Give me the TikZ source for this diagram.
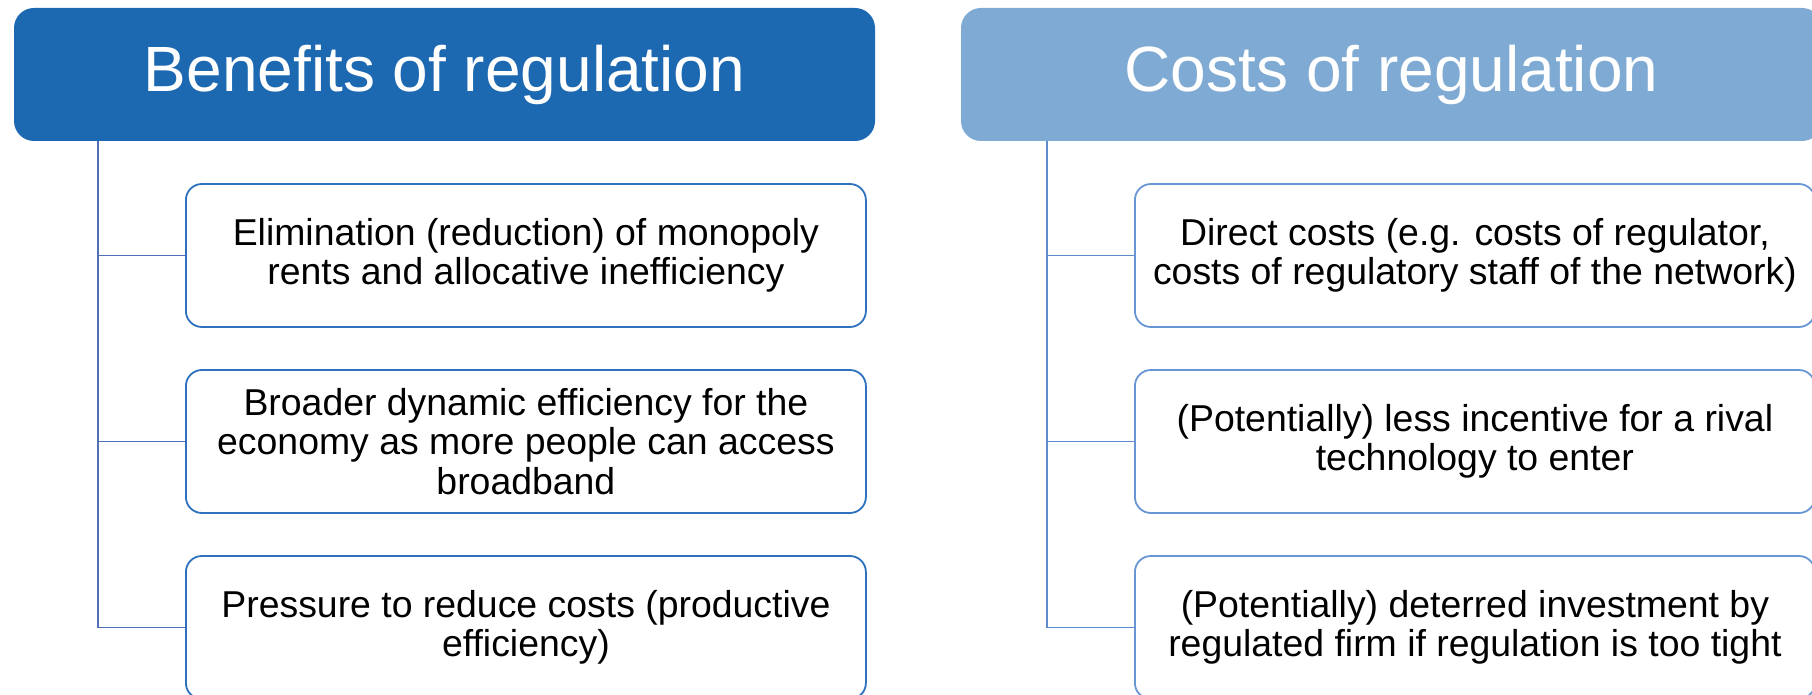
\documentclass[tikz,border=0pt]{standalone}
\usepackage{fontspec}
\setmainfont{Liberation Sans}
\usetikzlibrary{positioning}

\definecolor{benefitblue}{RGB}{28,104,177}
\definecolor{costblue}{RGB}{127,170,211}
\definecolor{benefitline}{RGB}{80,112,186}
\definecolor{benefitedge}{RGB}{46,114,190}
\definecolor{costline}{RGB}{96,140,204}
\definecolor{costedge}{RGB}{104,150,212}

\tikzset{
	head/.style={rounded corners=10pt,minimum width=430.5pt,minimum height=66.5pt,
		text=white,font=\fontsize{32}{38}\selectfont,inner sep=0pt},
	item/.style={draw,line width=0.9pt,rounded corners=8pt,fill=white,
		minimum width=340pt,minimum height=71.5pt,align=center,
		font=\fontsize{18.7}{19.8}\selectfont,inner sep=0pt},
	branch/.style={line width=0.8pt}
}

\begin{document}
\begin{tikzpicture}[x=0.5pt,y=-0.5pt]
	\useasboundingbox (0,0) rectangle (1812,695);
	\clip (0,0) rectangle (1812,695);

	% headers
	\node[head,fill=benefitblue] (benefits) at (444.5,74.5) {Benefits of regulation};
	\node[head,fill=costblue] (costs) at (1391.5,74.5) {Costs of regulation};

	% spines
	\coordinate (bspine) at (98,141);
	\coordinate (cspine) at (1047,141);

	% benefit items
	\node[item,draw=benefitedge,anchor=west] (b1) at (185,255.5)
		{Elimination (reduction) of monopoly\\rents and allocative inefficiency};
	\node[item,draw=benefitedge,below=20.6pt of b1] (b2)
		{Broader dynamic efficiency for the\\economy as more people can access\\broadband};
	\node[item,draw=benefitedge,below=20.6pt of b2] (b3)
		{Pressure to reduce costs (productive\\efficiency)};

	% cost items
	\node[item,draw=costedge,anchor=west] (c1) at (1134,255.5)
		{Direct costs (e.g. costs of regulator,\\costs of regulatory staff of the network)};
	\node[item,draw=costedge,below=20.6pt of c1] (c2)
		{(Potentially) less incentive for a rival\\technology to enter};
	\node[item,draw=costedge,below=20.6pt of c2] (c3)
		{(Potentially) deterred investment by\\regulated firm if regulation is too tight};

	% connectors
	\draw[branch,benefitline] (bspine) |- (b3.west);
	\foreach \n in {b1,b2}
		\draw[branch,benefitline] (bspine |- \n.west) -- (\n.west);
	\draw[branch,costline] (cspine) |- (c3.west);
	\foreach \n in {c1,c2}
		\draw[branch,costline] (cspine |- \n.west) -- (\n.west);
\end{tikzpicture}
\end{document}
